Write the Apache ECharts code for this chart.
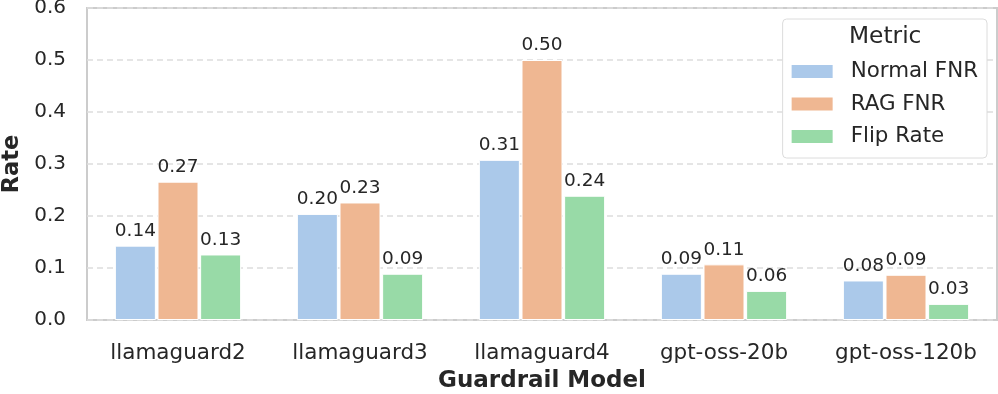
<!DOCTYPE html>
<html>
<head>
<meta charset="utf-8">
<script src="https://cdn.jsdelivr.net/npm/echarts@6/dist/echarts.min.js"></script>
<style>html,body{margin:0;padding:0;background:#fff;}#c{width:998px;height:394px;}</style>
</head>
<body>
<div id="c"></div>
<script>
const categories = ['llamaguard2', 'llamaguard3', 'llamaguard4', 'gpt-oss-20b', 'gpt-oss-120b'];
const normalFNR = [0.143, 0.204, 0.308, 0.089, 0.076];
const ragFNR = [0.266, 0.226, 0.500, 0.107, 0.087];
const flipRate = [0.126, 0.089, 0.239, 0.056, 0.031];
const seriesNames = ['Normal FNR', 'RAG FNR', 'Flip Rate'];
const yTicks = [0.0, 0.1, 0.2, 0.3, 0.4, 0.5, 0.6];
const colors = ['#abc9ea', '#efb792', '#98daa7'];

const FONT = 'DejaVu Sans';
const TXT = '#262626';
const chart = echarts.init(document.getElementById('c'), null, {renderer: 'canvas'});

function mk(name, data, color) {
  return {
    name: name, type: 'bar', data: data,
    barWidth: 41, barGap: '4%',
    itemStyle: {color: color, borderColor: '#ffffff', borderWidth: 1},
    label: {show: true, position: 'top', distance: 5, color: TXT, fontFamily: FONT, fontSize: 18.5,
      formatter: p => p.value.toFixed(2)},
    labelLayout: {hideOverlap: false},
    emphasis: {disabled: true}
  };
}

chart.setOption({
  animation: false,
  textStyle: {fontFamily: FONT},
  grid: {left: 87, right: 1, top: 8, bottom: 74, show: true, borderColor: '#cccccc', borderWidth: 2,
    containLabel: false, outerBoundsMode: 'none'},
  xAxis: {
    type: 'category', data: categories,
    name: 'Guardrail Model', nameLocation: 'middle', nameGap: 50,
    nameTextStyle: {fontFamily: FONT, fontSize: 23, fontWeight: 'bold', color: TXT},
    axisLine: {show: false}, axisTick: {show: false},
    axisLabel: {interval: 0, hideOverlap: false, margin: 22, fontFamily: FONT, fontSize: 21.5, color: TXT},
    splitLine: {show: false}
  },
  yAxis: {
    type: 'value', min: yTicks[0], max: yTicks[yTicks.length - 1], interval: 0.1,
    name: 'Rate', nameLocation: 'middle', nameGap: 61,
    nameTextStyle: {fontFamily: FONT, fontSize: 22.5, fontWeight: 'bold', color: TXT},
    axisLine: {show: false}, axisTick: {show: false},
    axisLabel: {margin: 21, fontFamily: FONT, fontSize: 20, color: TXT, formatter: v => v.toFixed(1)},
    splitLine: {show: true, lineStyle: {color: '#dddddd', width: 1.5, type: [6, 4]}}
  },
  legend: {
    orient: 'vertical', right: 11, top: 19,
    padding: [42, 9, 11, 9],
    itemWidth: 41, itemHeight: 13, itemGap: 11.5,
    borderColor: '#dcdcdc', borderWidth: 1, borderRadius: 4, backgroundColor: '#ffffff',
    icon: 'rect',
    itemStyle: {borderWidth: 0},
    textStyle: {fontFamily: FONT, fontSize: 21.4, color: TXT, lineHeight: 20, padding: [0, 0, 0, 13]},
    data: seriesNames
  },
  graphic: [{
    type: 'text', left: 849, top: 25, z: 100,
    style: {text: 'Metric', fontFamily: FONT, fontSize: 23.3, fill: TXT}
  }],
  series: [
    mk(seriesNames[0], normalFNR, colors[0]),
    mk(seriesNames[1], ragFNR, colors[1]),
    mk(seriesNames[2], flipRate, colors[2])
  ]
});
</script>
</body>
</html>
